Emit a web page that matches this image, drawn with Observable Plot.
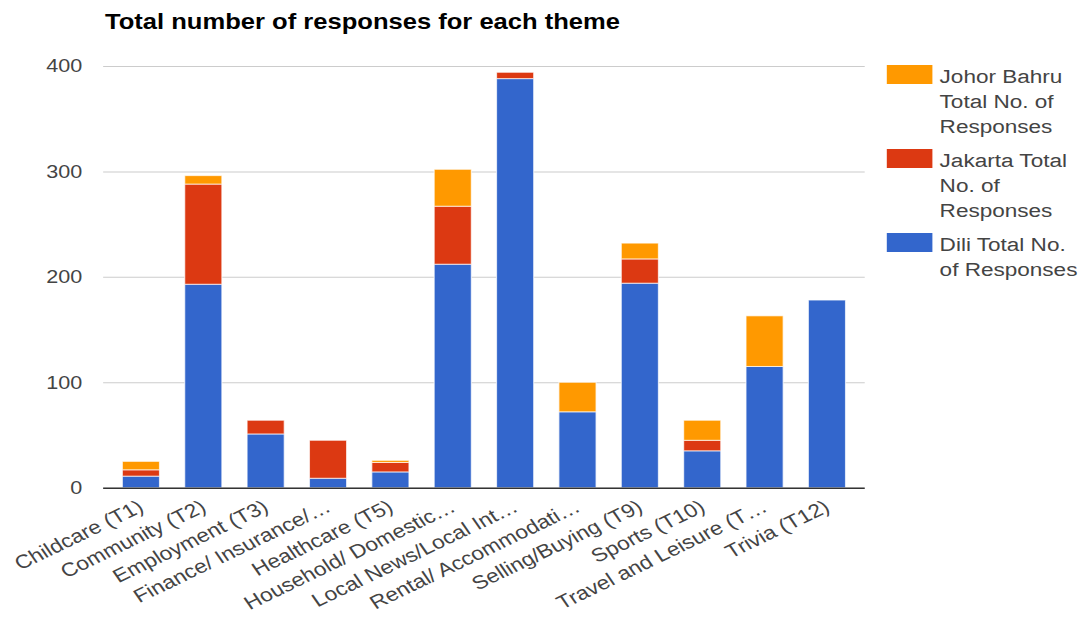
<!DOCTYPE html>
<html>
<head>
<meta charset="utf-8">
<script src="https://cdn.jsdelivr.net/npm/d3@7"></script>
<script src="https://cdn.jsdelivr.net/npm/@observablehq/plot@0.6"></script>
<style>
  html, body { margin: 0; padding: 0; background: #fff; overflow: hidden; }
  /* The whole figure is laid out on a narrower stage and widened horizontally */
  #stage {
    position: relative; width: 902.5px; height: 617px;
    transform: scaleX(1.2); transform-origin: 0 0;
    font-family: "Liberation Sans", Arial, sans-serif;
  }
  #chart { position: absolute; left: 0; top: 0; }
  #title {
    position: absolute; left: 87.5px; top: 11.5px;
    font-size: 21.3px; line-height: 21px; font-weight: bold; color: #000; white-space: nowrap;
  }
  .swatch { position: absolute; left: 739px; width: 37.5px; height: 19px; }
  .leg-text {
    position: absolute; left: 783px; font-size: 18.8px; line-height: 25.3px;
    color: #444; white-space: nowrap;
  }
</style>
</head>
<body>
<div id="stage">
  <div id="chart"></div>
  <div id="title">Total number of responses for each theme</div>
  <div id="legend"></div>
</div>
<script>
// Themes (x categories, as labelled on the axis)
const themes = [
  "Childcare (T1)", "Community (T2)", "Employment (T3)", "Finance/ Insurance/…",
  "Healthcare (T5)", "Household/ Domestic…", "Local News/Local Int…", "Rental/ Accommodati…",
  "Selling/Buying (T9)", "Sports (T10)", "Travel and Leisure (T…", "Trivia (T12)"
];

// Responses per city, one value per theme
const dili       = [11, 193, 51,  9, 15, 212, 388, 72, 194, 35, 115, 178];
const jakarta    = [ 6,  95, 13, 36,  9,  55,   6,  0,  23, 10,   0,   0];
const johorBahru = [ 8,   8,  0,  0,  2,  35,   0, 28,  15, 19,  48,   0];

const seriesNames  = ["Dili Total No. of Responses", "Jakarta Total No. of Responses", "Johor Bahru Total No. of Responses"];
const seriesColors = ["#3366cc", "#dc3912", "#ff9900"];
const yTicks = [0, 100, 200, 300, 400];

// Legend entries, top to bottom, with their wrapped lines
const legendEntries = [
  {color: "#ff9900", lines: ["Johor Bahru", "Total No. of", "Responses"], top: 65},
  {color: "#dc3912", lines: ["Jakarta Total", "No. of", "Responses"], top: 149},
  {color: "#3366cc", lines: ["Dili Total No.", "of Responses"], top: 233}
];

// Long-form rows, stacked in series order (Dili at the bottom)
const rows = [];
themes.forEach((theme, i) => {
  [dili, jakarta, johorBahru].forEach((arr, s) => {
    if (arr[i] > 0) rows.push({theme, series: seriesNames[s], value: arr[i]});
  });
});

const W = 903, H = 617;
const chart = Plot.plot({
  width: W, height: H,
  marginLeft: 86, marginRight: W - 721, marginTop: 66, marginBottom: H - 488,
  style: {fontFamily: "'Liberation Sans', Arial, sans-serif", fontSize: "18px", color: "#444", background: "transparent"},
  x: {domain: themes, paddingInner: 0.4, paddingOuter: 0.2, label: null},
  y: {domain: [0, 400], label: null},
  color: {domain: seriesNames, range: seriesColors},
  marks: [
    Plot.gridY(yTicks, {stroke: "#ccc", strokeOpacity: 1}),
    Plot.barY(rows, {x: "theme", y: "value", fill: "series", stroke: "white", strokeWidth: 1, strokeOpacity: 0.7}),
    Plot.ruleY([0], {stroke: "#333", strokeWidth: 1.5}),
    Plot.axisY(yTicks, {tickSize: 0, tickPadding: 18, label: null, fill: "#444"}),
    Plot.axisX({tickSize: 0, tickRotate: -30, tickPadding: 17, label: null, fill: "#444", fontSize: 19})
  ]
});
document.getElementById("chart").appendChild(chart);

// HTML legend at the right of the plot
const legend = document.getElementById("legend");
legendEntries.forEach(entry => {
  const sw = document.createElement("div");
  sw.className = "swatch";
  sw.style.top = entry.top + "px";
  sw.style.background = entry.color;
  legend.appendChild(sw);
  const tx = document.createElement("div");
  tx.className = "leg-text";
  tx.style.top = (entry.top - 1.5) + "px";
  tx.innerHTML = entry.lines.join("<br>");
  legend.appendChild(tx);
});
</script>
</body>
</html>
